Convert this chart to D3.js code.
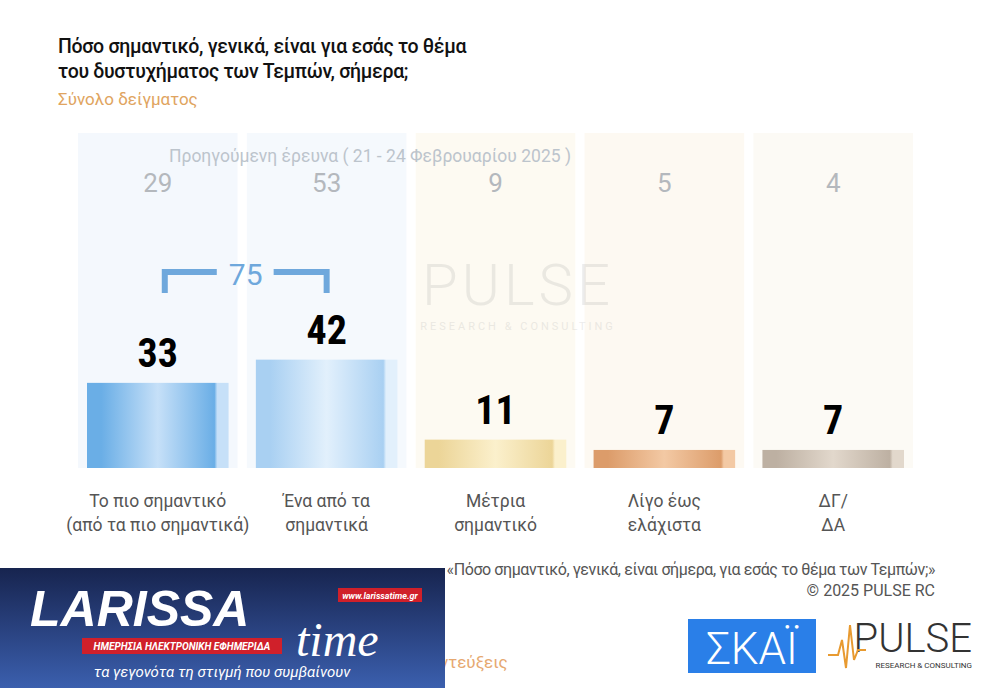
<!DOCTYPE html>
<html><head><meta charset="utf-8">
<script src="https://cdn.jsdelivr.net/npm/d3@7"></script>
<style>body{margin:0;background:#fff}svg{display:block}</style>
</head><body>
<svg id="c" width="990" height="688"></svg>
<script>
const categories = [["Το πιο σημαντικό","(από τα πιο σημαντικά)"],["Ένα από τα","σημαντικά"],["Μέτρια","σημαντικό"],["Λίγο έως","ελάχιστα"],["ΔΓ/","ΔΑ"]];
const current = [33, 42, 11, 7, 7];
const previous = [29, 53, 9, 5, 4];
const combined = 75;
const barColors = [["#6aaee6","#c6e0f8"],["#a9d0f2","#e2f0fc"],["#ecd598","#fbf0cc"],["#dc9c6a","#f3c9a4"],["#bdb0a2","#e2d8cc"]];
const panelColors = ["#f4f8fd","#f5f9fd","#fdfaf2","#fdf9f2","#fcfaf5"];

const svg = d3.select("#c");
const x = d3.scaleBand().domain(d3.range(5)).range([78, 913]).paddingInner(0.055);
const y = d3.scaleLinear().domain([0, 100]).range([468, 210]);
const defs = svg.append("defs");
barColors.forEach((c,i)=>{
  const g = defs.append("linearGradient").attr("id","g"+i);
  [[0,c[0]],[0.08,c[0]],[0.1,c[0]],[0.5,c[1]],[0.9,c[0]],[0.92,c[1]],[1,c[1]]].forEach(s=>g.append("stop").attr("offset",s[0]).attr("stop-color",s[1]));
});
const font = "Roboto, sans-serif";
svg.selectAll(".p").data(categories).join("rect")
  .attr("x",(d,i)=>x(i)).attr("y",133).attr("width",x.bandwidth()).attr("height",335)
  .attr("fill",(d,i)=>panelColors[i]);
const wm = svg.append("g").attr("opacity",0.18);
wm.append("text").attr("x",518).attr("y",305).attr("text-anchor","middle").attr("font-family",font).attr("font-weight",300).attr("font-size",58).attr("fill","#999").attr("letter-spacing",4).text("PULSE");
wm.append("text").attr("x",518).attr("y",330).attr("text-anchor","middle").attr("font-family",font).attr("font-size",11).attr("fill","#999").attr("letter-spacing",3).text("RESEARCH & CONSULTING");
const inset = 9;
svg.selectAll(".b").data(current).join("rect")
  .attr("x",(d,i)=>x(i)+inset).attr("width",x.bandwidth()-2*inset)
  .attr("y",d=>y(d)).attr("height",d=>y(0)-y(d)).attr("fill",(d,i)=>`url(#g${i})`);
svg.selectAll(".v").data(current).join("text")
  .attr("x",(d,i)=>x(i)+x.bandwidth()/2).attr("y",d=>y(d)-16)
  .attr("text-anchor","middle").attr("font-family","'Liberation Sans Narrow', 'Roboto Condensed', sans-serif")
  .attr("font-weight","bold").attr("font-size",40).attr("fill","#000").text(d=>d);
svg.selectAll(".pv").data(previous).join("text")
  .attr("x",(d,i)=>x(i)+x.bandwidth()/2).attr("y",192)
  .attr("text-anchor","middle").attr("font-family",font).attr("font-size",26).attr("fill","#b4b8bd").text(d=>d);
svg.append("text").attr("x",370).attr("y",162).attr("text-anchor","middle").attr("font-family",font)
  .attr("font-size",17.5).attr("fill","#bcc4cc").text("Προηγούμενη έρευνα ( 21 - 24 Φεβρουαρίου 2025 )");
const c0 = x(0)+x.bandwidth()/2+7, c1 = x(1)+x.bandwidth()/2;
const by = 272;
svg.append("path").attr("d",`M${c0},${by+21}V${by}H${c0+52}`).attr("fill","none").attr("stroke","#6fa8dc").attr("stroke-width",6);
svg.append("path").attr("d",`M${c1-53},${by}H${c1}V${by+21}`).attr("fill","none").attr("stroke","#6fa8dc").attr("stroke-width",6);
svg.append("text").attr("x",(c0+c1)/2).attr("y",285).attr("text-anchor","middle").attr("font-family",font).attr("font-size",30).attr("fill","#6fa8dc").text(combined);
categories.forEach((c,i)=>{
  c.forEach((t,j)=>svg.append("text").attr("x",x(i)+x.bandwidth()/2).attr("y",507+j*24).attr("text-anchor","middle")
    .attr("font-family",font).attr("font-size",17.5).attr("fill","#555").text(t));
});
[["Πόσο σημαντικό, γενικά, είναι για εσάς το θέμα",53],["του δυστυχήματος των Τεμπών, σήμερα;",78]].forEach(t=>
  svg.append("text").attr("x",58).attr("y",t[1]).attr("font-family",font).attr("font-weight",500).attr("font-size",19.5).attr("fill","#111").attr("letter-spacing",-0.3).text(t[0]));
svg.append("text").attr("x",58).attr("y",105).attr("font-family",font).attr("font-size",17).attr("fill","#e0a460").text("Σύνολο δείγματος");
svg.append("text").attr("x",935).attr("y",575).attr("text-anchor","end").attr("font-family",font).attr("font-size",16).attr("fill","#555").attr("letter-spacing",-0.4).text("«Πόσο σημαντικό, γενικά, είναι σήμερα, για εσάς το θέμα των Τεμπών;»");
svg.append("text").attr("x",935).attr("y",596).attr("text-anchor","end").attr("font-family",font).attr("font-size",16).attr("fill","#555").text("©  2025  PULSE RC");
svg.append("text").attr("x",440).attr("y",668).attr("font-family",font).attr("font-size",17).attr("fill","#e6a870").text("ντεύξεις");
const lg = defs.append("linearGradient").attr("id","lt").attr("x1",0).attr("y1",0).attr("x2",0).attr("y2",1);
lg.append("stop").attr("offset",0).attr("stop-color","#17244f"); lg.append("stop").attr("offset",1).attr("stop-color","#3b5fae");
svg.append("rect").attr("x",0).attr("y",568).attr("width",445).attr("height",120).attr("fill","url(#lt)");
svg.append("text").attr("x",30).attr("y",626).attr("font-family","'Liberation Sans Narrow',sans-serif").attr("font-weight","bold").attr("font-style","italic").attr("font-size",50).attr("fill","#fff").text("LARISSA");
svg.append("text").attr("x",296).attr("y",656).attr("font-family","'Liberation Serif',serif").attr("font-style","italic").attr("font-size",48).attr("fill","#fff").text("time");
svg.append("rect").attr("x",338).attr("y",588).attr("width",84).attr("height",14).attr("fill","#d0202a");
svg.append("text").attr("x",380).attr("y",599).attr("text-anchor","middle").attr("font-family",font).attr("font-weight","bold").attr("font-style","italic").attr("font-size",9).attr("fill","#fff").text("www.larissatime.gr");
svg.append("rect").attr("x",82).attr("y",638).attr("width",200).attr("height",16).attr("fill","#d0202a");
svg.append("text").attr("x",182).attr("y",650).attr("text-anchor","middle").attr("font-family",font).attr("font-weight","bold").attr("font-style","italic").attr("font-size",10).attr("fill","#fff").text("ΗΜΕΡΗΣΙΑ ΗΛΕΚΤΡΟΝΙΚΗ ΕΦΗΜΕΡΙΔΑ");
svg.append("text").attr("x",222).attr("y",677).attr("text-anchor","middle").attr("font-family",font).attr("font-style","italic").attr("font-size",15).attr("fill","#fff").text("τα γεγονότα τη στιγμή που συμβαίνουν");
svg.append("rect").attr("x",688).attr("y",619).attr("width",128).attr("height",54).attr("fill","#2a7fe8");
svg.append("text").attr("x",752).attr("y",664).attr("text-anchor","middle").attr("font-family",font).attr("font-weight",300).attr("font-size",44).attr("fill","#fff").text("ΣΚΑΪ");
svg.append("text").attr("x",972).attr("y",652).attr("text-anchor","end").attr("font-family",font).attr("font-weight",300).attr("font-size",40).attr("fill","#333").text("PULSE");
svg.append("text").attr("x",972).attr("y",668).attr("text-anchor","end").attr("font-family",font).attr("font-size",8).attr("fill","#333").text("RESEARCH & CONSULTING");
svg.append("path").attr("d","M828,655H838L842,640L846,668L850,625L854,660L858,650H866").attr("fill","none").attr("stroke","#e89a30").attr("stroke-width",2);
</script>
</body></html>
